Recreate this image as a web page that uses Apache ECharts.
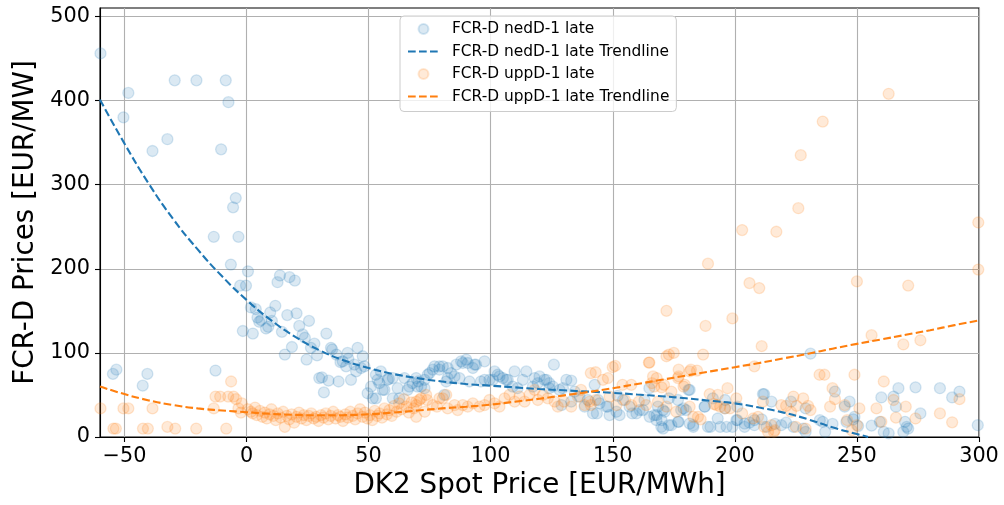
<!DOCTYPE html>
<html>
<head>
<meta charset="utf-8">
<script src="https://cdn.jsdelivr.net/npm/echarts@6/dist/echarts.min.js"></script>
<style>
  html, body { margin: 0; padding: 0; background: #ffffff; }
  #chart { width: 1004px; height: 505px; }
</style>
</head>
<body>
<div id="chart"></div>
<script>
// Axis ticks
const xTicks = [-50, 0, 50, 100, 150, 200, 250, 300];
const yTicks = [0, 100, 200, 300, 400, 500];

// Series names (legend order)
const nedName = 'FCR-D nedD-1 late';
const nedTrendName = 'FCR-D nedD-1 late Trendline';
const uppName = 'FCR-D uppD-1 late';
const uppTrendName = 'FCR-D uppD-1 late Trendline';

// FCR-D nedD-1 late: [spot price, FCR-D price]
const nedPoints = [
  [-59.8,456],[-48.4,409],[-50.4,380],[-38.5,340],[-32.4,354],[-29.4,424],[-20.5,424],[-8.5,424],[-7.4,398],
  [-10.4,342],[-4.4,284],[-5.5,273],[-13.4,238],[-3.3,238],[-6.4,205],[0.6,197],[-2.6,180],[-0.2,180],
  [12.7,184],[13.7,192],[17.6,190],[19.8,186],[1.8,154],[3.8,152],[9.7,148],[11.8,156],[4.5,142],[6.0,139],
  [8.0,129],[8.9,131],[10.4,138],[16.7,145],[20.5,147],[21.6,132],[25.6,138],[14.5,125],[23.0,122],[23.9,118],
  [-1.5,126],[2.6,123],[32.7,123],[27.8,111],[18.6,107],[15.7,98],[24.6,92],[28.9,97],[35.1,104],[36.8,98],
  [38.5,89],[29.8,70],[30.9,71],[33.6,67],[37.7,66],[31.7,53],[-12.7,79],[-54.7,75],[-53.3,80],[-40.6,75],
  [-42.5,61],[41.7,93],[42.8,68],[5.2,137],[26.4,106],[34.6,106],[39.4,90],[41.4,100],[40.8,84],[44.2,86],
  [45.5,106],[44.9,78],[46.9,82],[47.6,96],[48.3,84],[49.6,52],[51,60],[53,46],[54.4,64],[56.5,56],[57.8,68],
  [59.9,70],[59.9,46],[61.9,58],[62.6,46],[64.7,70],[66,56],[68,64],[69.5,70],[55,78],[53,74],[51.7,46],
  [55.8,56],[53.7,68],[58.3,69],[66.7,60],[71.5,60],[72.9,68],[74.2,74],[76.3,80],[79,84],
  [70.4,66],[72.9,58],[75,76],[77,84],[79,80],[80.4,84],[82.4,82],[83.8,76],[85.9,86],[87.9,90],[90,92],
  [90.6,88],[92.7,82],[94,86],[97.5,90],[81.8,66],[85.2,72],[87.2,70],[91.3,66],[96,66],[99.5,68],[101.6,78],
  [102.9,74],[105,70],[107,68],[109.8,78],[114.6,78],[113.2,68],[118,70],[119.3,64],[122,68],[124,64],
  [125.9,86],[131,68],[133,67],[81,50],[70,60],[109,60],[111,58],[117.3,60],[124,58],[129.6,58],[134.4,54],
  [136.4,48],[139.8,44],[138.5,36],[141.9,28],[133,42],[129,38],
  [82.4,70],[88.6,88],[93.4,86],[97.5,68],[100.9,68],[103.6,72],[106.4,68],[120,72],[122.8,68],[125.5,60],
  [128.2,56],[144.6,40],[147.4,36],[151.5,30],[154.2,44],[156.9,36],[159.7,28],[162.4,32],[165.1,24],
  [167.9,20],[169.9,12],[171.3,30],
  [142.6,62],[144,44],[143.5,28],[148,36],[148.7,26],[152,49],[152.8,26],[158,28],[161,32],[163,44],[165,58],
  [167,26],[170,20],[170.6,10],[174,14],[176.7,18],[173,46],[176.7,44],[178,32],[180,32],[181.5,56],[182.9,14],
  [187.6,36],[189,12],[193,22],[196.6,12],[200.6,20],[204,16],[208,20],[211.5,51],[213,12],
  [231,99],[212,51],[241,54],[260,47],[267,58],[274,59],[284,58],[292,54],[289,47],[265,48],[266,36],[276,28],
  [247,42],[245,36],[299.5,14],[256,13.5],[261,6],[263,4.4],[269,6],[271,10],[248.5,21],[250.5,13],[236,18],
  [237,6],[240,15.5],[228,10],[229,6],[224,12],[221,17],[219,14],[216.4,15.5],[211,21],[208,14],[206,17],
  [204,12],[201,20],[199,12],[194,12],[190,12],[187.7,36],[191,46],[196,44],[183,12],[181.5,16],[177,18],
  [173,14],[168,26],[170.6,32],[179,34],[181,56],[168.5,36],[196,34],[201,36],
  [215,42],[223,42],[229,34],[234.8,20],[245.7,18],[249,24],[259.4,18],[269.7,18],[270.4,12]
];

// FCR-D uppD-1 late: [spot price, FCR-D price]
const uppPoints = [
  [-59.8,34],[-50.4,34],[-48.4,34],[-38.5,34],[-54.5,10],[-53.5,10],[-42.4,10],[-40.4,10],[-32.4,12],
  [-29.2,10],[-20.6,10],[-8.3,10],[-6.3,66],[-12.7,48],[-10.8,48],[-7.5,48],[-5.3,48],[-4.3,45],[-13.4,34],
  [-3.3,34],[-1.9,40],[-2.3,29],
  [0.5,33],[1.8,30],[2.5,28],[3.5,35],[4.2,26],[5.5,31],[6.5,24],[7.5,29],[8.3,22],[9.5,27],[10.2,33],[11,25],
  [12,20],[12.8,28],[14,23],[15,30],[15.7,12],[16.5,25],[17.5,21],[18.5,27],[19.5,17],[20.5,24],[21.5,29],
  [22.5,22],[23.5,26],[24.5,20],[25.5,25],[26.5,28],[27.5,22],[28.5,24],[29.5,19],[30.5,26],[31.5,23],
  [32.5,28],[33.5,21],[34.5,25],[35.5,30],[36.5,22],[37.5,26],[38.5,24],[39.5,19],[40.5,27],[41.5,23],
  [42.5,30],[43.5,25],[44.5,21],[45.5,28],[46.5,33],[47.5,24],[48.5,29],[49.5,22],[50.5,26],[51.5,20],
  [52.5,31],[53.5,25],[54.5,28],[55.5,23],[56.5,34],[57.5,27],[58.5,32],[59.5,25],[60.5,37],[61.5,30],
  [62.5,40],[63.5,33],[64.5,45],[65.5,36],[66.5,29],[67.5,41],[68.5,34],[69.5,38],
  [71.5,46],[73.6,50],[79,46],[81.8,50],[69.5,42],
  [69.5,24],[70.8,44],[73,30],[74,44],[76.3,38],[78,36],[80.4,46],[82.4,34],[85.2,38],[86.5,32],[88.6,38],
  [90.6,36],[92.7,40],[95.4,36],[97.5,38],[99.5,44],[101.6,40],[103.6,36],[105.7,46],[107.7,50],[109.8,42],
  [111.8,48],[113.9,42],[115.9,50],[118,56],[119.3,44],[121.4,50],[123.4,46],[126.2,42],[127.5,36],[130,42],
  [133,36],[135.7,48],[137,56],[138.5,38],[141,76],[140.5,42],
  [143,77],[150,83],[151,84.5],[164.8,88.5],[172,96],
  [165,88.5],[177,80],[182,80],[184.5,79],[166.5,72],[146,68],[148,70],[208,84],[154,62],[157.6,62],[166,64],
  [171,62],[176.7,70],[179.5,62],[174,54],[189.7,51],[193,50],[197,58],[200.6,46],[211.5,42],[168.5,42],
  [172,36],[155,44],[157.6,38],[160.7,42],[141,38],[143,44],[148.7,48],[151.5,38],[163.7,38],[181.5,36],
  [184.9,24],[192.5,38],[195.9,34],[203,28],[207.5,22],[176,30],
  [177,72],[181.5,78],[170,59],[179,60],[191.5,39],[194,36],[198,34],[209.5,24],[212,12],[216,6],[213.6,6],
  [219,38],[221,37],[224,48],[228,46],[230,37],[231,32],[223,30],[225,12],[183,24],[186,21],[167,60],[168,70],
  [234.7,74],[236.7,74],[249,74],[261,66],[240,58],[241,45],[239,36],[258,34],[270,36],[292,45],[284,28],
  [289,17.5],[274,22],[266,23],[260,18],[250,14],[251,34],[246,20],[245,38],[265,44],[247.9,8],[215,14],
  [216.4,8],[229,10],[225.3,37],
  [263,408],[236,375],[227,335],[226,272],[203,246],[217,244],[189,206],[206,183],[210,177],[250,185],
  [271,180],[299.7,255],[299.7,199],[172,150],[199,141],[188,132],[211,108],[173,98],[175,100],[187,98],
  [256,121],[269,110],[276,115]
];

// Trendlines: [spot price, fitted price]
const nedTrend = [
  [-60,401],[-50,349],[-40,301],[-30,259],[-20,223],[-10,191],[0,163],[10,139],[20,119],[30,103],[40,91],
  [50,82],[60,75],[70,70],[80,66],[90,63],[100,61],[110,59],[120,57],[130,55.5],[140,54],[150,52.5],
  [160,50.5],[170,48.5],[180,46],[190,43],[200,40],[210,35],[220,29],[230,21],[240,11.5],[250,3.5],[254.6,0]
];
const uppTrend = [
  [-60,60],[-50,51],[-40,43.5],[-30,38],[-20,34],[-10,31.5],[0,29.5],[10,27.5],[20,26.3],[30,25.8],[40,26],
  [50,27],[60,29],[70,31.5],[80,34],[90,36],[100,38.5],[110,42],[120,45.5],[130,49.5],[140,53.5],[150,58],
  [160,63],[170,68],[180,73],[190,78],[200,83],[210,88],[220,93.5],[230,99],[240,105],[250,110.7],[260,116],
  [270,121.5],[280,127],[290,133],[300,138.5]
];

const FONT = 'DejaVu Sans';
const BLUE = '#1f77b4';
const ORANGE = '#ff7f0e';
const minusFmt = v => (v < 0 ? '\u2212' + Math.abs(v) : String(v));

const chart = echarts.init(document.getElementById('chart'), null, { renderer: 'canvas' });

chart.setOption({
  animation: false,
  backgroundColor: '#ffffff',
  textStyle: { fontFamily: FONT },
  grid: {
    left: 100, right: 25, top: 8, bottom: 68,
    show: true, borderColor: '#000000', borderWidth: 1.1, backgroundColor: 'transparent'
  },
  legend: {
    orient: 'vertical',
    left: 400, top: 16,
    itemWidth: 31, itemHeight: 10, itemGap: 6.5,
    padding: [5, 7, 7, 7],
    backgroundColor: 'rgba(255,255,255,0.8)',
    borderColor: '#cccccc', borderWidth: 1, borderRadius: 4,
    textStyle: { fontFamily: FONT, fontSize: 15.4, lineHeight: 16, color: '#000000', padding: [0, 0, 0, 8] },
    data: [
      { name: nedName },
      { name: nedTrendName, itemStyle: { opacity: 0 } },
      { name: uppName },
      { name: uppTrendName, itemStyle: { opacity: 0 } }
    ],
    selectedMode: false
  },
  xAxis: {
    type: 'value', min: -60, max: 300,
    name: 'DK2 Spot Price [EUR/MWh]', nameLocation: 'middle', nameGap: 34,
    nameTextStyle: { fontFamily: FONT, fontSize: 27.8, color: '#000000' },
    axisLine: { show: true, onZero: false, lineStyle: { color: '#000000', width: 1.1 } },
    axisTick: { show: true, inside: false, length: 5, customValues: xTicks, lineStyle: { color: '#000000', width: 1.1 } },
    axisLabel: { customValues: xTicks, formatter: minusFmt, fontFamily: FONT, fontSize: 20.8, color: '#000000', margin: 9 },
    splitLine: { show: true, lineStyle: { color: '#b0b0b0', width: 1.1 } }
  },
  yAxis: {
    type: 'value', min: 0, max: 510,
    name: 'FCR-D Prices [EUR/MW]', nameLocation: 'middle', nameGap: 55,
    nameTextStyle: { fontFamily: FONT, fontSize: 27.8, color: '#000000' },
    axisLine: { show: true, onZero: false, lineStyle: { color: '#000000', width: 1.1 } },
    axisTick: { show: true, inside: false, length: 5, customValues: yTicks, lineStyle: { color: '#000000', width: 1.1 } },
    axisLabel: { customValues: yTicks, fontFamily: FONT, fontSize: 20.8, color: '#000000', margin: 10 },
    splitLine: { show: true, lineStyle: { color: '#b0b0b0', width: 1.1 } }
  },
  series: [
    {
      name: nedName, type: 'scatter', data: nedPoints,
      symbol: 'circle', symbolSize: 11,
      itemStyle: { color: 'rgba(31,119,180,0.2)', borderColor: 'rgba(31,119,180,0.22)', borderWidth: 1.3 },
      emphasis: { disabled: true }
    },
    {
      name: nedTrendName, type: 'line', data: nedTrend, smooth: true,
      symbol: 'none', clip: true,
      lineStyle: { color: BLUE, width: 2.1, type: [7.7, 3.3] },
      itemStyle: { color: BLUE },
      emphasis: { disabled: true }
    },
    {
      name: uppName, type: 'scatter', data: uppPoints,
      symbol: 'circle', symbolSize: 11,
      itemStyle: { color: 'rgba(255,127,14,0.2)', borderColor: 'rgba(255,127,14,0.22)', borderWidth: 1.3 },
      emphasis: { disabled: true }
    },
    {
      name: uppTrendName, type: 'line', data: uppTrend, smooth: true,
      symbol: 'none', clip: true,
      lineStyle: { color: ORANGE, width: 2.1, type: [7.7, 3.3] },
      itemStyle: { color: ORANGE },
      emphasis: { disabled: true }
    }
  ]
});
</script>
</body>
</html>
